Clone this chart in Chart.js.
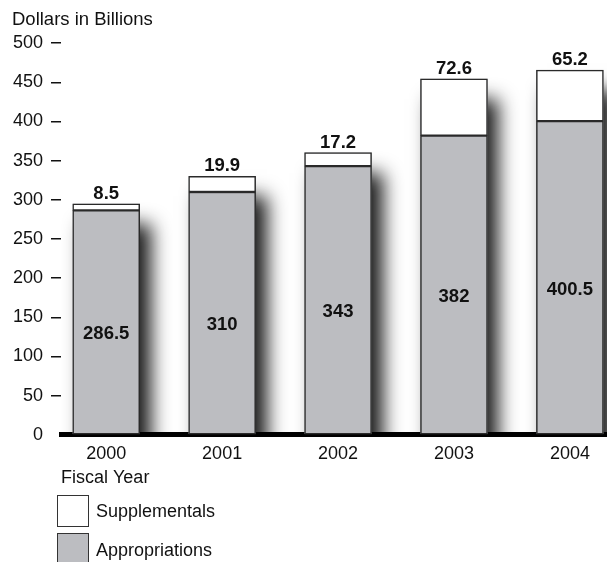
<!DOCTYPE html>
<html>
<head>
<meta charset="utf-8">
<script src="https://cdn.jsdelivr.net/npm/chart.js@4.4.0/dist/chart.umd.min.js"></script>
<style>
  html, body { margin: 0; padding: 0; background: #fff; overflow: hidden; }
  #wrap { position: relative; width: 607px; height: 562px; }
  .key { position: absolute; left: 57px; width: 30px; height: 30px; border: 1.5px solid #333; }
  .keyText { position: absolute; left: 96px; font: 18px "Liberation Sans", Arial, sans-serif; color: #111; }
</style>
</head>
<body>
<div id="wrap">
  <canvas id="budgetChart" width="607" height="562"></canvas>
  <div class="key" style="top:495px;background:#fff"></div>
  <div class="key" style="top:533px;background:#bcbdc1"></div>
  <div class="keyText" style="top:501px">Supplementals</div>
  <div class="keyText" style="top:540px">Appropriations</div>
</div>
<script>
const years = [2000, 2001, 2002, 2003, 2004];
const appropriations = [286.5, 310, 343, 382, 400.5];
const supplementals = [8.5, 19.9, 17.2, 72.6, 65.2];
const yTicks = [0, 50, 100, 150, 200, 250, 300, 350, 400, 450, 500];

const greyFill = '#bcbdc1';
const edge = '#2a2a2a';
const fontFamily = '"Liberation Sans", Arial, sans-serif';

// soft drop shadow behind every stacked bar
const barShadow = {
    id: 'barShadow',
    beforeDatasetsDraw(chart) {
        const low = chart.getDatasetMeta(0).data;
        const high = chart.getDatasetMeta(1).data;
        const area = chart.chartArea;
        const ctx = chart.ctx;
        ctx.save();
        ctx.beginPath();
        ctx.rect(area.left, area.top - 30, area.right - area.left, area.bottom - area.top + 30);
        ctx.clip();
        ctx.shadowColor = 'rgba(0,0,0,0.9)';
        ctx.shadowBlur = 18;
        ctx.shadowOffsetX = 11;
        ctx.shadowOffsetY = 20;
        ctx.fillStyle = greyFill;
        low.forEach((bar, i) => {
            const top = high[i].y;
            ctx.fillRect(bar.x - bar.width / 2, top, bar.width, bar.base - top);
        });
        ctx.restore();
    }
};

// value labels: supplementals above the bar, appropriations inside
const valueLabels = {
    id: 'valueLabels',
    afterDatasetsDraw(chart) {
        const ctx = chart.ctx;
        const low = chart.getDatasetMeta(0).data;
        const high = chart.getDatasetMeta(1).data;
        ctx.save();
        ctx.fillStyle = '#111';
        ctx.font = 'bold 18.5px ' + fontFamily;
        ctx.textAlign = 'center';
        low.forEach((bar, i) => {
            ctx.textBaseline = 'middle';
            ctx.fillText(String(appropriations[i]), bar.x, (bar.y + bar.base) / 2 + 12);
            ctx.textBaseline = 'bottom';
            ctx.fillText(String(supplementals[i]), high[i].x, high[i].y - 1);
        });
        ctx.restore();
    }
};

const ctx = document.getElementById('budgetChart').getContext('2d');
const budgetChart = new Chart(ctx, {
    type: 'bar',
    data: {
        datasets: [{
            label: 'Appropriations',
            data: appropriations.map((v, i) => ({ x: years[i], y: v })),
            backgroundColor: greyFill,
            borderColor: edge,
            borderWidth: 1.5,
            borderSkipped: false,
            barThickness: 67,
            stack: 'total'
        }, {
            label: 'Supplementals',
            data: supplementals.map((v, i) => ({ x: years[i], y: v })),
            backgroundColor: '#ffffff',
            borderColor: edge,
            borderWidth: 1.5,
            borderSkipped: false,
            barThickness: 67,
            stack: 'total'
        }]
    },
    options: {
        responsive: false,
        animation: false,
        layout: { padding: { left: 12, right: 0, top: 0, bottom: 73 } },
        plugins: {
            legend: { display: false },
            tooltip: { enabled: false },
            title: {
                display: true,
                text: 'Dollars in Billions',
                align: 'start',
                color: '#111',
                font: { family: fontFamily, size: 18.5, weight: 'normal' },
                padding: { top: 9, bottom: 12 }
            }
        },
        scales: {
            x: {
                type: 'linear',
                stacked: true,
                offset: false,
                min: 1999.61,
                max: 2004.32,
                grid: { display: false, drawTicks: false },
                border: { display: true, color: '#000', width: 5 },
                afterBuildTicks: scale => {
                    scale.ticks = years.map(y => ({ value: y }));
                },
                ticks: {
                    autoSkip: false,
                    maxRotation: 0,
                    padding: 8,
                    color: '#111',
                    font: { family: fontFamily, size: 18 },
                    callback: value => String(value)
                },
                title: {
                    display: true,
                    text: 'Fiscal Year',
                    align: 'start',
                    color: '#111',
                    font: { family: fontFamily, size: 18 },
                    padding: { top: -5, bottom: 0 }
                }
            },
            y: {
                stacked: true,
                min: 0,
                max: 500,
                afterBuildTicks: scale => {
                    scale.ticks = yTicks.map(v => ({ value: v }));
                },
                afterFit: scale => {
                    scale.width = 49;
                },
                grid: {
                    drawOnChartArea: false,
                    tickLength: 10,
                    lineWidth: 1.5,
                    tickColor: c => c.tick && c.tick.value === 0 ? 'rgba(0,0,0,0)' : '#111'
                },
                border: { display: false },
                ticks: {
                    padding: 8,
                    color: '#111',
                    font: { family: fontFamily, size: 18 }
                }
            }
        }
    },
    plugins: [barShadow, valueLabels]
});
</script>
</body>
</html>
